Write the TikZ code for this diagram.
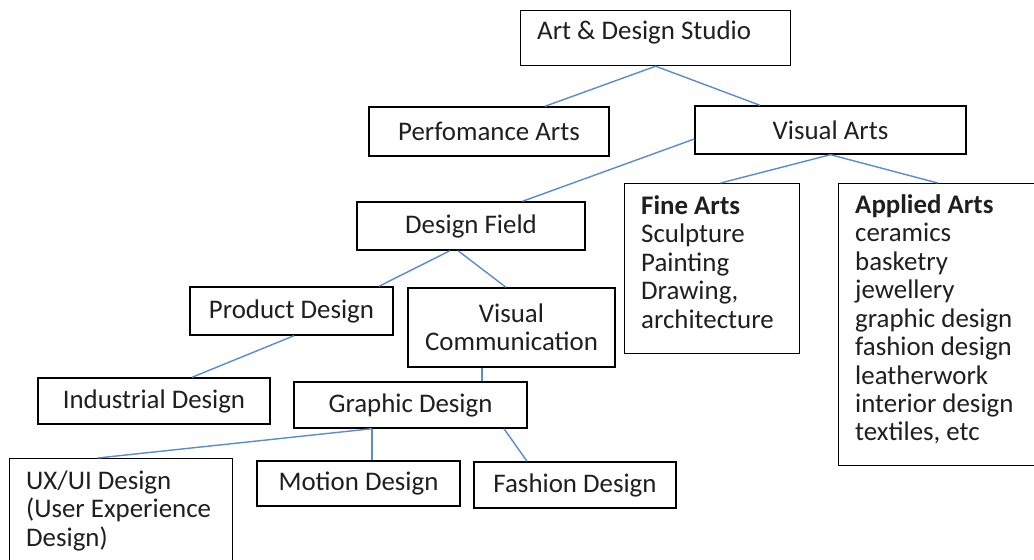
\documentclass[tikz,border=0pt]{standalone}
\usepackage{fontspec}
\setmainfont{Carlito}
\usetikzlibrary{positioning}
\definecolor{linkblue}{HTML}{5B8BD0}
\definecolor{inkgray}{HTML}{1F1F1F}

\begin{document}
\begin{tikzpicture}[x=0.02cm,y=-0.02cm]
            \tikzset{box/.style={draw,line width=0.8pt,inner sep=0pt,text=inkgray,font=\fontsize{15.3}{16.2}\selectfont,align=center}}
            \tikzset{leftbox/.style={box,align=flush left,anchor=north west,inner xsep=0.33cm}}
            \tikzset{link/.style={draw=linkblue,line width=0.8pt}}

            \useasboundingbox (0,0) rectangle (1034,560);

            \node[leftbox,text width=4.74cm,inner ysep=0pt,text height=16.4pt,text depth=14.8pt] (studio) at (520,10) {Art \& Design Studio};
            \node[box,minimum width=4.8cm,minimum height=0.98cm] (perf) at (489,131.5) {Perfomance Arts};
            \node[box,minimum width=5.42cm,minimum height=0.96cm] (visual) at (830.5,130) {Visual Arts};

            \node[leftbox,text width=2.84cm,minimum height=3.4cm] (fine) at (624,183) {\textbf{Fine Arts}\\Sculpture\\Painting\\Drawing,\\architecture\rule[-0.28cm]{0pt}{0pt}};
            \node[leftbox,text width=3.3cm,minimum height=5.64cm] (applied) at (838,183) {\textbf{Applied Arts}\\ceramics\\basketry\\jewellery\\graphic design\\fashion design\\leatherwork\\interior design\\textiles, etc\rule[-0.28cm]{0pt}{0pt}};

            \node[box,minimum width=4.56cm,minimum height=0.96cm] (field) at (471,226) {Design Field};
            \node[box,minimum width=4.06cm,minimum height=0.96cm] (product) at (291.5,311) {Product Design};
            \node[box,minimum width=4.14cm,minimum height=1.58cm] (viscomm) at (511.5,327.5) {Visual\\Communication};
            \node[box,minimum width=4.64cm,minimum height=0.92cm] (industrial) at (154,401) {Industrial Design};
            \node[box,minimum width=4.66cm,minimum height=0.92cm] (graphic) at (410.5,405) {Graphic Design};

            % the last box runs off the bottom edge
            \node[leftbox,text width=3.8cm,minimum height=2.08cm] (uxui) at (9,458) {UX/UI Design\\(User Experience\\Design)};
            \node[box,minimum width=4.06cm,minimum height=0.9cm] (motion) at (358.5,483.5) {Motion Design};
            \node[box,minimum width=4.04cm,minimum height=0.92cm] (fashion) at (575,485) {Fashion Design};

            \draw[link] (studio.south) -- ([xshift=1.12cm]perf.north);
            \draw[link] (studio.south) -- ([xshift=-1.41cm]visual.north);
            \draw[link] ([yshift=-0.18cm]visual.west) -- ([xshift=1.03cm]field.north);
            \draw[link] (visual.south) -- ([xshift=0.17cm]fine.north);
            \draw[link] (visual.south) -- (applied.north);

            \draw[link] ([xshift=-0.42cm]field.south) -- ([xshift=1.75cm]product.north);
            \draw[link] ([xshift=-0.26cm]field.south) -- ([xshift=-0.11cm]viscomm.north);
            \draw[link] ([xshift=0.05cm]product.south) -- ([xshift=0.76cm]industrial.north);
            \draw[link] ([xshift=-0.59cm]viscomm.south) -- ([xshift=-0.59cm]viscomm.south |- graphic.north);

            \draw[link] ([xshift=-0.77cm]graphic.south) -- ([xshift=-0.47cm]uxui.north);
            \draw[link] ([xshift=-0.77cm]graphic.south) -- ([xshift=-0.77cm]graphic.south |- motion.north);
            \draw[link] ([xshift=1.87cm]graphic.south) -- ([xshift=-0.96cm]fashion.north);

\end{tikzpicture}
\end{document}
